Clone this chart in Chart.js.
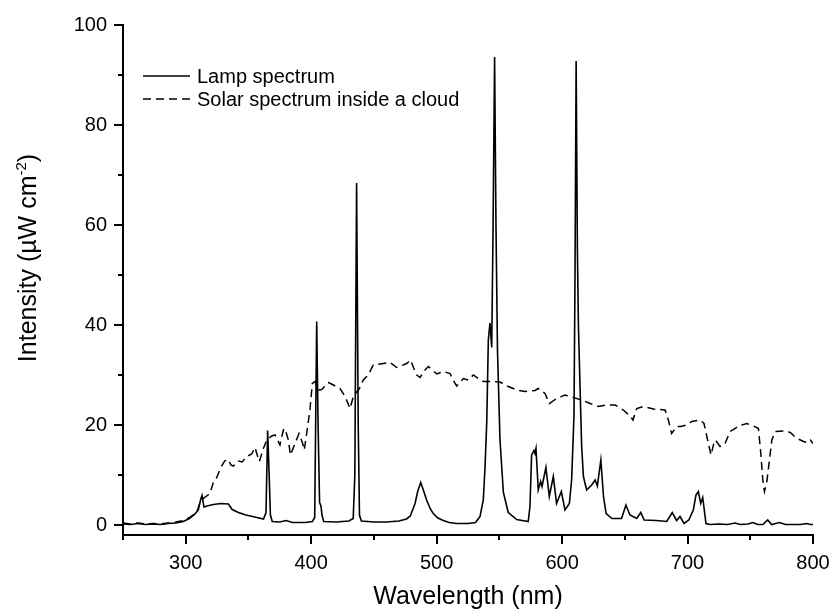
<!DOCTYPE html>
<html lang="en">
<head>
<meta charset="UTF-8">
<title>Lamp and solar spectra</title>
<script src="https://cdn.jsdelivr.net/npm/chart.js"></script>
<style>
    body { margin: 0; background: #ffffff; }
    #spectrumChart { display: block; }
</style>
</head>
<body>
<canvas id="spectrumChart" width="832" height="612"></canvas>
<script>
// lamp spectrum (nm / uW cm-2)
const lampNm = [
    250, 256, 262, 268, 274, 280, 286, 292, 298, 303,
    307, 310, 312, 313, 314.5, 317, 322, 328, 334, 337,
    342, 348, 355, 362, 364, 365.3, 366.5, 367.5, 369, 375,
    380, 385, 395, 401, 402.8, 404.4, 405.5, 406.7, 407.8, 408.6,
    410, 420, 430, 433.5, 434.8, 436.2, 437.5, 438.5, 440, 450,
    460, 470, 476, 479, 482.8, 485, 487.3, 489, 492, 495,
    497.3, 501, 505.3, 510, 516, 525, 531, 534.6, 537.2, 538.6,
    540, 541.2, 542.5, 543.9, 545, 546.2, 547.3, 548.5, 550.5, 553.2,
    557.1, 563.8, 573, 574.4, 575.7, 577.6, 578.4, 579.2, 581, 582.9,
    584, 587.1, 589.8, 593, 595.6, 599.4, 602.3, 605.8, 607.6, 609.5,
    610.3, 611.2, 612.2, 613, 614.3, 615.6, 617, 618.3, 619.6, 623.6,
    626.3, 628.1, 630.9, 633, 635.1, 639.7, 647.4, 650.9, 654.1, 659.5,
    662.7, 665.4, 675, 683.4, 687.8, 691.3, 694, 697.2, 701, 704.6,
    706.7, 708.6, 710.5, 712.1, 714.7, 718, 725, 732, 737.8, 742,
    748, 752, 756, 760, 763.9, 767, 773.2, 778, 785, 790,
    795, 798, 800
];
const lampIntensity = [
    0.2, 0.1, 0.3, 0.1, 0.2, 0.1, 0.3, 0.4, 0.7, 1.3,
    2.1, 3.0, 5.2, 5.9, 3.6, 3.8, 4.1, 4.3, 4.2, 3.1,
    2.5, 2.0, 1.6, 1.2, 2.5, 18.9, 10, 2, 0.7, 0.6,
    0.9, 0.5, 0.5, 0.7, 1.5, 40.7, 20, 4.5, 3.8, 2,
    0.7, 0.6, 0.8, 1.3, 10, 68.4, 20, 2, 0.8, 0.6,
    0.6, 0.8, 1.2, 1.8, 4.3, 6.8, 8.5, 7.3, 5, 3.2,
    2.3, 1.4, 0.9, 0.5, 0.3, 0.3, 0.5, 1.7, 5, 11.7,
    21, 37, 40.4, 35.5, 60, 93.6, 60, 35, 17, 6.5,
    2.5, 1.1, 0.7, 3.7, 14, 14.9, 14.3, 15.3, 7, 8.7,
    7.7, 11.5, 5.7, 9.7, 4.3, 6.7, 3, 4.3, 9, 22,
    50, 92.8, 55, 40, 27.7, 15.7, 9.7, 8.3, 7, 8,
    9, 7.8, 13, 5.7, 2.3, 1.3, 1.3, 4, 2, 1.3,
    2.5, 1, 0.9, 0.7, 2.5, 0.9, 1.7, 0.3, 1, 3,
    6, 6.7, 4.3, 5.5, 0.3, 0.1, 0.2, 0.1, 0.4, 0.1,
    0.2, 0.5, 0.1, 0.1, 1, 0.1, 0.5, 0.1, 0.1, 0.1,
    0.3, 0.1, 0.1
];

// solar spectrum inside a cloud
const solarNm = [
    250, 256, 262, 268, 274, 280, 286, 292, 298, 303,
    308.7, 311.4, 314, 319.3, 322, 324.7, 328, 331, 334, 336,
    338, 342, 345, 348.6, 352.6, 355.2, 357, 358.7, 361.9, 364.6,
    368.5, 371.2, 373.8, 375.1, 377.8, 379.1, 381.8, 383.5, 387.1, 390.3,
    393.2, 394.5, 396.4, 399, 400.9, 403.1, 405.7, 408.4, 413.7, 417.7,
    423, 427, 431, 433.6, 438.4, 441.5, 445.5, 449.5, 457.5, 462.8,
    468.2, 476.1, 479.3, 481.5, 484.1, 486.8, 490, 493.4, 500.1, 505.3,
    510.7, 513, 516, 521.3, 525.3, 529.3, 533.2, 537.2, 545, 550.5,
    557.1, 563.8, 570.4, 578.4, 581, 586.4, 589.8, 595.6, 602.3, 608.9,
    615.6, 622.3, 628.9, 635.6, 642.2, 648.8, 654.2, 656.5, 659.5, 664.8,
    672.8, 682.1, 684.7, 687.3, 691.3, 694.5, 699.3, 703.3, 709.9, 713.1,
    716, 718.7, 721.3, 722.2, 725.9, 729.9, 733.9, 738, 740.5, 747.2,
    752.5, 756.5, 758.4, 760, 761.3, 763.2, 765.3, 767.2, 769.9, 776.5,
    781.9, 787.2, 792.5, 795, 797.9, 800
];
const solarIntensity = [
    0.4, 0.2, 0.4, 0.2, 0.3, 0.2, 0.4, 0.6, 0.9, 1.5,
    2.5, 4.5, 5.3, 6.3, 8.5, 9.5, 11.5, 12.8, 13.1, 12,
    11.8, 12.8, 12.6, 13.7, 14.2, 15.5, 14, 12.7, 15.3, 17,
    17.8, 18, 16.7, 16, 19, 19.3, 17, 14, 16.3, 18.3,
    16.3, 15, 18.3, 23, 28.3, 28.7, 27, 27.1, 28.5, 28,
    27.3, 25.7, 23.3, 25.7, 27.3, 29, 30, 32, 32.3, 32.5,
    31.5, 32.3, 33, 31.5, 30, 29.5, 30.8, 31.7, 30.2, 30.7,
    30.3, 29, 27.8, 29.3, 29, 30, 29.3, 28.7, 28.7, 28.6,
    27.7, 27, 26.7, 26.9, 27.3, 26.3, 24.3, 25.3, 26, 25.5,
    25, 24.3, 23.7, 24, 24, 23, 21.8, 21, 23.3, 23.7,
    23.2, 23, 21, 18.3, 19.7, 19.7, 20, 20.7, 21, 20.3,
    17, 14, 16.7, 17, 15.7, 16.3, 18.7, 19.3, 19.8, 20.3,
    19.8, 19.3, 14.3, 9, 6.7, 8.7, 13, 17, 18.7, 18.8,
    18.5, 17.3, 16.7, 16.5, 17, 16.3
];

const xMajorTicks = [300, 400, 500, 600, 700, 800];
const xMinorTicks = [250, 350, 450, 550, 650, 750];
const yMajorTicks = [0, 20, 40, 60, 80, 100];
const yMinorTicks = [10, 30, 50, 70, 90];

const FONT = "'Liberation Sans', Arial, sans-serif";

function toPoints(xs, ys) {
    return xs.map((x, i) => ({ x: x, y: ys[i] }));
}

function allTicks(major, minor) {
    return major.concat(minor).sort((a, b) => a - b).map(v => ({ value: v }));
}

// tick marks (long major, short minor), axis titles and the legend
const decorations = {
    id: 'decorations',
    afterDraw(chart) {
        const ctx = chart.ctx;
        const area = chart.chartArea;
        const xs = chart.scales.x;
        const ys = chart.scales.y;
        ctx.save();
        ctx.strokeStyle = '#000';
        ctx.lineWidth = 2;
        ctx.beginPath();
        xs.ticks.forEach(t => {
            const px = Math.round(xs.getPixelForValue(t.value));
            const len = xMajorTicks.includes(t.value) ? 9 : 5;
            ctx.moveTo(px, area.bottom);
            ctx.lineTo(px, area.bottom + len);
        });
        ys.ticks.forEach(t => {
            const py = Math.round(ys.getPixelForValue(t.value));
            const len = yMajorTicks.includes(t.value) ? 9 : 5;
            ctx.moveTo(area.left, py);
            ctx.lineTo(area.left - len, py);
        });
        ctx.stroke();

        // x title
        ctx.fillStyle = '#000';
        ctx.font = '25px ' + FONT;
        ctx.textAlign = 'center';
        ctx.textBaseline = 'alphabetic';
        ctx.fillText('Wavelength (nm)', (area.left + area.right) / 2, 604);

        // y title with superscript
        const main = 'Intensity (µW cm', sup = '-2', close = ')';
        ctx.font = '25px ' + FONT;
        const w1 = ctx.measureText(main).width;
        const w3 = ctx.measureText(close).width;
        ctx.font = '15px ' + FONT;
        const w2 = ctx.measureText(sup).width;
        const total = w1 + w2 + w3;
        ctx.translate(36, 258);
        ctx.rotate(-Math.PI / 2);
        ctx.textAlign = 'left';
        ctx.font = '25px ' + FONT;
        ctx.fillText(main, -total / 2, 0);
        ctx.font = '15px ' + FONT;
        ctx.fillText(sup, -total / 2 + w1, -10);
        ctx.font = '25px ' + FONT;
        ctx.fillText(close, -total / 2 + w1 + w2, 0);
        ctx.restore();

        // legend
        ctx.save();
        ctx.font = '20px ' + FONT;
        ctx.fillStyle = '#000';
        ctx.textBaseline = 'middle';
        ctx.textAlign = 'left';
        chart.data.datasets.forEach((ds, i) => {
            const y = 76 + i * 23;
            ctx.strokeStyle = '#000';
            ctx.lineWidth = 1.5;
            ctx.setLineDash(ds.borderDash || []);
            ctx.beginPath();
            ctx.moveTo(143, y);
            ctx.lineTo(190, y);
            ctx.stroke();
            ctx.setLineDash([]);
            ctx.fillText(ds.label, 197, y + 1);
        });
        ctx.restore();
    }
};

new Chart(document.getElementById('spectrumChart'), {
    type: 'line',
    data: {
        datasets: [
            {
                label: 'Lamp spectrum',
                data: toPoints(lampNm, lampIntensity),
                borderColor: '#000',
                borderWidth: 1.6,
                pointRadius: 0,
                tension: 0,
                fill: false
            },
            {
                label: 'Solar spectrum inside a cloud',
                data: toPoints(solarNm, solarIntensity),
                borderColor: '#000',
                borderWidth: 1.5,
                borderDash: [8, 5],
                pointRadius: 0,
                tension: 0,
                fill: false
            }
        ]
    },
    options: {
        responsive: false,
        animation: false,
        layout: { padding: { top: 25, right: 19, left: 0, bottom: 0 } },
        plugins: {
            legend: { display: false },
            tooltip: { enabled: false }
        },
        scales: {
            x: {
                type: 'linear',
                min: 250,
                max: 800,
                afterBuildTicks: scale => { scale.ticks = allTicks(xMajorTicks, xMinorTicks); },
                afterFit: scale => {
                    scale.height = 77;
                    scale.paddingLeft = 0;
                    scale.paddingRight = 0;
                },
                grid: { display: false, drawTicks: false },
                border: { display: true, color: '#000', width: 2 },
                ticks: {
                    autoSkip: false,
                    maxRotation: 0,
                    padding: 16,
                    color: '#000',
                    font: { family: FONT, size: 20 },
                    callback: v => xMajorTicks.includes(v) ? String(v) : ''
                }
            },
            y: {
                min: -2,
                max: 100,
                afterBuildTicks: scale => { scale.ticks = allTicks(yMajorTicks, yMinorTicks); },
                afterFit: scale => {
                    scale.width = 123;
                    scale.paddingTop = 0;
                    scale.paddingBottom = 0;
                },
                grid: { display: false, drawTicks: false },
                border: { display: true, color: '#000', width: 2 },
                ticks: {
                    autoSkip: false,
                    padding: 16,
                    color: '#000',
                    font: { family: FONT, size: 20 },
                    callback: v => yMajorTicks.includes(v) ? String(v) : ''
                }
            }
        }
    },
    plugins: [decorations]
});
</script>
</body>
</html>
